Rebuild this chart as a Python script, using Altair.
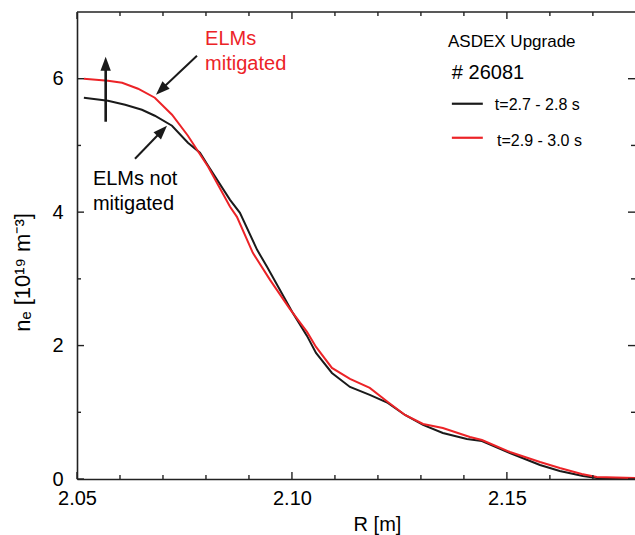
import altair as alt
import pandas as pd

# ---------------- data ----------------
XMIN, XMAX = 2.05, 2.1798
YMIN, YMAX = 0.0, 7.0

R_black = [2.0516, 2.0572, 2.0612, 2.0651, 2.0681, 2.0721, 2.0758, 2.0786, 2.0805,
           2.0856, 2.0879, 2.0919, 2.0942, 2.1002, 2.1035, 2.1056, 2.1093, 2.1135,
           2.1181, 2.1223, 2.1263, 2.1305, 2.1351, 2.1407, 2.1442, 2.1507, 2.1577,
           2.1623, 2.1677, 2.1709, 2.1798]
n_black = [5.715, 5.67, 5.61, 5.535, 5.445, 5.295, 5.04, 4.89, 4.695,
           4.185, 3.99, 3.435, 3.18, 2.49, 2.145, 1.89, 1.59, 1.38,
           1.26, 1.14, 0.96, 0.81, 0.69, 0.60, 0.57, 0.39, 0.21,
           0.12, 0.045, 0.015, 0.0]

R_red = [2.0516, 2.0572, 2.0605, 2.0642, 2.0681, 2.0721, 2.0758, 2.0805, 2.0856,
         2.0872, 2.0909, 2.0949, 2.0995, 2.1035, 2.1056, 2.1093, 2.1135, 2.1181,
         2.1223, 2.1263, 2.1305, 2.1351, 2.1414, 2.1442, 2.1507, 2.1577, 2.1623,
         2.1674, 2.1709, 2.1798]
n_red = [6.0, 5.97, 5.94, 5.85, 5.715, 5.46, 5.145, 4.68, 4.08,
         3.93, 3.39, 2.985, 2.55, 2.205, 1.98, 1.665, 1.50, 1.365,
         1.155, 0.96, 0.825, 0.765, 0.63, 0.585, 0.405, 0.255, 0.165,
         0.075, 0.03, 0.015]

series_names = ["t=2.7 - 2.8 s", "t=2.9 - 3.0 s"]
series_colors = ["#1a1a1a", "#ec2327"]

x_major = [2.05, 2.10, 2.15]
x_minor = [2.06, 2.07, 2.08, 2.09, 2.11, 2.12, 2.13, 2.14, 2.16, 2.17]
y_major = [0, 2, 4, 6]
y_minor = [1, 3, 5]

# legend / annotation anchors (data units)
legend_line_x = [2.1372, 2.1444]
legend_line_y = [5.625, 5.115]
legend_label_x = [2.1472, 2.1477]
legend_label_y = [5.61, 5.07]
header_texts = ["ASDEX Upgrade"]
header_x = [2.1363]
header_y = [6.555]
shot_texts = ["# 26081"]
shot_x = [2.1372]
shot_y = [6.09]

red_note = ["ELMs", "mitigated"]
red_note_x = [2.0798, 2.0798]
red_note_y = [6.51, 6.135]
black_note = ["ELMs not", "mitigated"]
black_note_x = [2.0537, 2.0537]
black_note_y = [4.41, 4.035]

# arrows: tail, shaft end, tip, head angle
arrow_tail_x = [2.05667, 2.07791, 2.06349]
arrow_tail_y = [5.355, 6.345, 4.80]
arrow_end_x = [2.05667, 2.06953, 2.06977]
arrow_end_y = [6.15, 5.835, 5.22]
arrow_tip_x = [2.05667, 2.06837, 2.07093]
arrow_tip_y = [6.33, 5.76, 5.295]
arrow_angle = [0, 226, 44]
arrow_width = [2.6, 2.0, 2.0]

# ---------------- tables ----------------
curves = pd.DataFrame(
    {"R": R_black + R_red,
     "n": n_black + n_red,
     "series": [series_names[0]] * len(R_black) + [series_names[1]] * len(R_red)}
)

MAJ_XLEN, MIN_XLEN = 0.105, 0.06      # y-units for vertical ticks
MAJ_YLEN, MIN_YLEN = 0.00163, 0.00093  # x-units for horizontal ticks
tick_rows = []
for v in x_major + x_minor:
    L = MAJ_XLEN if v in x_major else MIN_XLEN
    tick_rows.append({"x": v, "x2": v, "y": YMIN, "y2": YMIN + L})
    tick_rows.append({"x": v, "x2": v, "y": YMAX, "y2": YMAX - L})
for v in y_major + y_minor:
    L = MAJ_YLEN if v in y_major else MIN_YLEN
    tick_rows.append({"x": XMIN, "x2": XMIN + L, "y": v, "y2": v})
    tick_rows.append({"x": XMAX, "x2": XMAX - L, "y": v, "y2": v})
ticks = pd.DataFrame(tick_rows)
top_spine = pd.DataFrame({"x": [XMIN], "x2": [XMAX], "y": [YMAX], "y2": [YMAX]})

legend_df = pd.DataFrame({"x": [legend_line_x[0]] * 2, "x2": [legend_line_x[1]] * 2,
                          "y": legend_line_y, "series": series_names,
                          "lx": legend_label_x, "ly": legend_label_y})

arrows = pd.DataFrame({"tx": arrow_tail_x, "ty": arrow_tail_y,
                       "ex": arrow_end_x, "ey": arrow_end_y,
                       "px": arrow_tip_x, "py": arrow_tip_y,
                       "angle": arrow_angle, "w": arrow_width})

FONT = "Liberation Sans"
xs = alt.Scale(domain=[XMIN, XMAX], nice=False, zero=False)
ys = alt.Scale(domain=[YMIN, YMAX], nice=False, zero=False)
cs = alt.Scale(domain=series_names, range=series_colors)

XAXIS = alt.Axis(values=x_major, format=".2f", title="R [m]",
                 ticks=False, tickSize=0, grid=False,
                 domain=True, domainColor="#222", domainWidth=1.6,
                 labelFont=FONT, labelFontSize=20, labelColor="black",
                 labelPadding=9, labelFlush=False,
                 titleFont=FONT, titleFontSize=20, titleFontWeight="normal",
                 titleColor="black", titleX=300, titleY=51,
                 titleBaseline="alphabetic", titleAlign="center")
YAXIS = alt.Axis(values=y_major, format="d", title="nₑ [10¹⁹ m⁻³]",
                 ticks=False, tickSize=0, grid=False,
                 domain=True, domainColor="#222", domainWidth=1.6,
                 labelFont=FONT, labelFontSize=20, labelColor="black",
                 labelPadding=14, labelFlush=False,
                 titleFont=FONT, titleFontSize=22, titleFontWeight="normal",
                 titleColor="black", titleX=-48, titleY=260, titleAngle=270,
                 titleBaseline="alphabetic", titleAlign="center")


def X(f):
    return alt.X(f, scale=xs, axis=XAXIS, title="R [m]")


def Y(f):
    return alt.Y(f, scale=ys, axis=YAXIS, title="nₑ [10¹⁹ m⁻³]")


lines = alt.Chart(curves).mark_line(strokeWidth=2, clip=True).encode(
    x=X("R:Q"), y=Y("n:Q"),
    color=alt.Color("series:N", scale=cs, legend=None),
    detail="series:N",
)

tick_layer = alt.Chart(ticks).mark_rule(color="#222", strokeWidth=1.4).encode(
    x=X("x:Q"), x2="x2:Q", y=Y("y:Q"), y2="y2:Q")

top_layer = alt.Chart(top_spine).mark_rule(color="#222", strokeWidth=1.6).encode(
    x=X("x:Q"), x2="x2:Q", y=Y("y:Q"))

leg_lines = alt.Chart(legend_df).mark_rule(strokeWidth=2.2).encode(
    x=X("x:Q"), x2="x2:Q", y=Y("y:Q"),
    color=alt.Color("series:N", scale=cs, legend=None))

leg_text = alt.Chart(legend_df).mark_text(
    align="left", baseline="middle", font=FONT, fontSize=16, color="black").encode(
    x=X("lx:Q"), y=Y("ly:Q"), text="series:N")

hdr = alt.Chart(pd.DataFrame({"x": header_x, "y": header_y, "t": header_texts})).mark_text(
    align="left", baseline="middle", font=FONT, fontSize=17, color="black").encode(
    x=X("x:Q"), y=Y("y:Q"), text="t:N")

shot = alt.Chart(pd.DataFrame({"x": shot_x, "y": shot_y, "t": shot_texts})).mark_text(
    align="left", baseline="middle", font=FONT, fontSize=20, color="black").encode(
    x=X("x:Q"), y=Y("y:Q"), text="t:N")

red_txt = alt.Chart(pd.DataFrame({"x": red_note_x, "y": red_note_y, "t": red_note})).mark_text(
    align="left", baseline="alphabetic", font=FONT, fontSize=20, color=series_colors[1]).encode(
    x=X("x:Q"), y=Y("y:Q"), text="t:N")

blk_txt = alt.Chart(pd.DataFrame({"x": black_note_x, "y": black_note_y, "t": black_note})).mark_text(
    align="left", baseline="alphabetic", font=FONT, fontSize=20, color="black").encode(
    x=X("x:Q"), y=Y("y:Q"), text="t:N")

shafts = alt.Chart(arrows).mark_rule(color="#1a1a1a").encode(
    x=X("tx:Q"), x2="ex:Q", y=Y("ty:Q"), y2="ey:Q",
    strokeWidth=alt.StrokeWidth("w:Q", scale=None))

heads = alt.Chart(arrows).mark_point(
    filled=True, shape="M0,0L-0.37,1L0.37,1Z", size=784, color="#1a1a1a", opacity=1).encode(
    x=X("px:Q"), y=Y("py:Q"),
    angle=alt.Angle("angle:Q", scale=None))

chart = alt.layer(
    lines, tick_layer, top_layer, leg_lines, leg_text, hdr, shot,
    red_txt, blk_txt, shafts, heads
).properties(
    width=558, height=467,
    autosize=alt.AutoSizeParams(type="none"),
    padding={"left": 77, "top": 12, "right": 0, "bottom": 56},
    background="white",
).configure_view(stroke=None)

chart.save("out.html", embed_options={"renderer": "svg", "actions": False})
